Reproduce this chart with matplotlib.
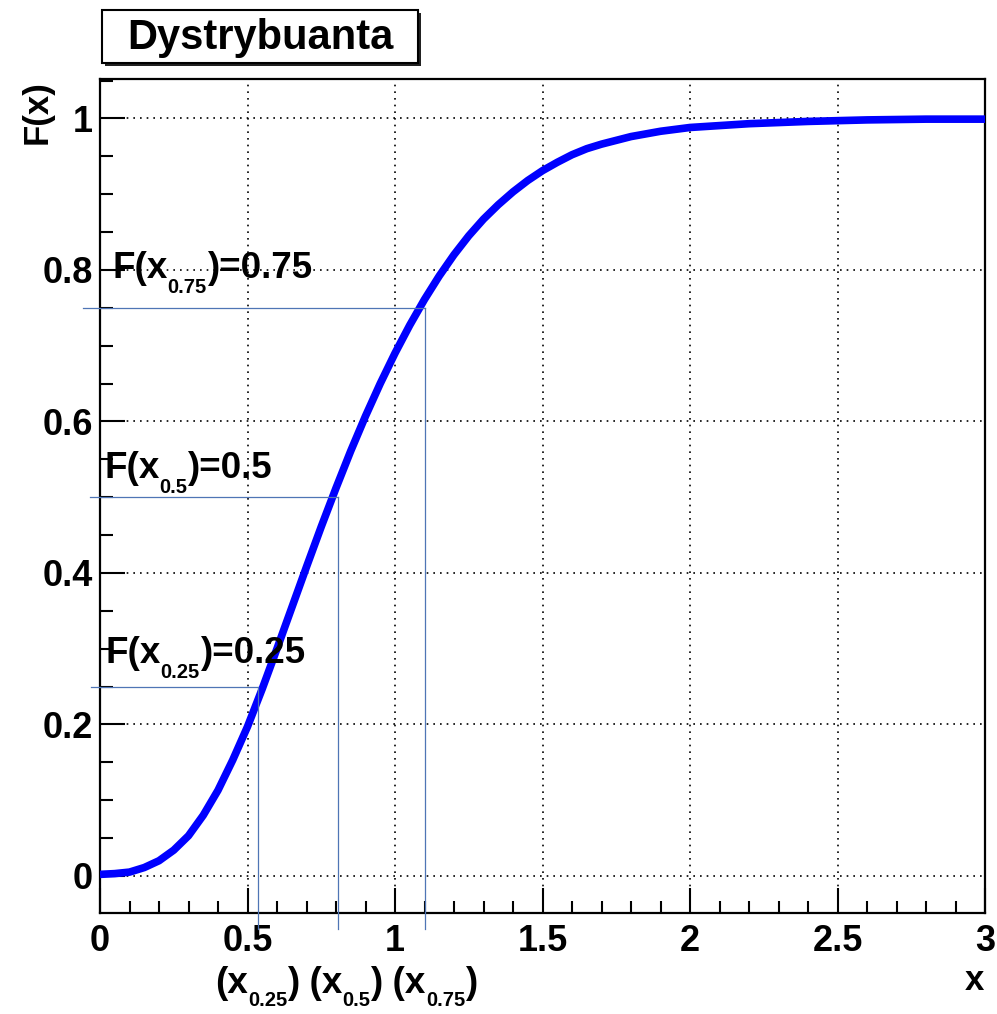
import numpy as np
import matplotlib
matplotlib.use("Agg")
import matplotlib.pyplot as plt
from matplotlib.patches import Rectangle

# --- values --------------------------------------------------------------
x_vals = [0.0, 0.05, 0.1, 0.15, 0.2, 0.25, 0.3, 0.35, 0.4, 0.45, 0.5, 0.55,
          0.6, 0.65, 0.7, 0.75, 0.8, 0.85, 0.9, 0.95, 1.0, 1.05, 1.1, 1.15,
          1.2, 1.25, 1.3, 1.35, 1.4, 1.45, 1.5, 1.55, 1.6, 1.65, 1.7, 1.75,
          1.8, 1.9, 2.0, 2.2, 2.4, 2.6, 2.8, 3.0]
F_vals = [0.002, 0.003, 0.005, 0.011, 0.020, 0.034, 0.053, 0.080, 0.113,
          0.153, 0.197, 0.247, 0.300, 0.354, 0.408, 0.461, 0.512, 0.561,
          0.607, 0.650, 0.690, 0.727, 0.761, 0.792, 0.820, 0.845, 0.867,
          0.886, 0.903, 0.918, 0.931, 0.942, 0.952, 0.960, 0.966, 0.971,
          0.976, 0.983, 0.988, 0.993, 0.996, 0.998, 0.999, 0.999]
q_levels = [0.25, 0.5, 0.75]
q_x = [0.534, 0.808, 1.102]
q_start = [-0.031, -0.034, -0.058]
# (text, is_subscript) pieces of the annotations
F_labels = [[("F(x", 0), ("0.25", 1), (")=0.25", 0)],
            [("F(x", 0), ("0.5", 1), (")=0.5", 0)],
            [("F(x", 0), ("0.75", 1), (")=0.75", 0)]]
x_label_pieces = [("(x", 0), ("0.25", 1), (") (x", 0), ("0.5", 1),
                  (") (x", 0), ("0.75", 1), (")", 0)]

plt.rcParams["font.family"] = ["Liberation Sans", "DejaVu Sans"]
plt.rcParams["font.weight"] = "bold"

W, H = 997, 1014
fig = plt.figure(figsize=(W / 100, H / 100), dpi=100)
ax = fig.add_axes([100 / W, 1 - 913 / H, 885 / W, 834 / H])

ax.set_xlim(0, 3)
ax.set_ylim(-0.049, 1.052)

# grid + ticks in ROOT style
ax.set_xticks(np.arange(0, 3.01, 0.5))
ax.set_xticks(np.arange(0, 3.01, 0.1), minor=True)
ax.set_yticks(np.arange(0, 1.01, 0.2))
ax.set_yticks(np.arange(0, 1.051, 0.05), minor=True)
ax.set_xticklabels(["0", "0.5", "1", "1.5", "2", "2.5", "3"])
ax.set_yticklabels(["0", "0.2", "0.4", "0.6", "0.8", "1"])
ax.tick_params(which="both", direction="in", top=False, right=False,
               width=1.5, labelsize=26)
ax.tick_params(which="major", length=18)
ax.tick_params(which="minor", length=9)
ax.tick_params(axis="x", pad=8)
ax.tick_params(axis="y", pad=5)
ax.grid(True, which="major", color="black", ls=(0, (1, 3)), lw=1.2)
for s in ax.spines.values():
    s.set_linewidth(1.6)

# curve
ax.plot(x_vals, F_vals, color="#0000ff", lw=5.5, solid_capstyle="butt",
        zorder=3)

# quantile guides
for lev, qx, x0 in zip(q_levels, q_x, q_start):
    ax.plot([x0, qx], [lev, lev], color="#4f75b5", lw=0.9, clip_on=False,
            zorder=4)
    ax.plot([qx, qx], [lev, -0.07], color="#4f75b5", lw=0.9, clip_on=False,
            zorder=4)

renderer = fig.canvas.get_renderer()


def rich_text(x_px, base_px, pieces, size=26.5, sub_size=14.5, drop=15):
    """Write text with ROOT-like subscripts, left to right, in pixel coords."""
    cur = x_px
    for s, sub in pieces:
        yb = base_px + (drop if sub else 0)
        t = fig.text(cur / W, 1 - yb / H, s, fontsize=sub_size if sub else size,
                     fontweight="bold", ha="left", va="baseline", zorder=5)
        cur += t.get_window_extent(renderer).width


for (px, py), pieces in zip([(105, 663), (104, 478), (112, 278)], F_labels):
    rich_text(px, py, pieces)
rich_text(215, 993, x_label_pieces, drop=13)

# axis titles
fig.text(37 / W, 1 - 112 / H, "F(x)", rotation=90, fontsize=25,
         fontweight="bold", ha="center", va="center")
fig.text(974 / W, 1 - 980 / H, "x", fontsize=25, fontweight="bold",
         ha="center", va="center")

# title box with shadow
bx, by, bw, bh = 102 / W, 1 - 63 / H, 316 / W, 53 / H
fig.patches.append(Rectangle((bx + 3 / W, by - 3 / H), bw, bh,
                             transform=fig.transFigure, facecolor="#222222",
                             edgecolor="none"))
fig.patches.append(Rectangle((bx, by), bw, bh, transform=fig.transFigure,
                             facecolor="white", edgecolor="black", lw=1.5))
fig.text(bx + bw / 2, by + bh / 2 - 2 / H, "Dystrybuanta", fontsize=30,
         fontweight="bold", ha="center", va="center")

fig.savefig("out.png", dpi=100)
